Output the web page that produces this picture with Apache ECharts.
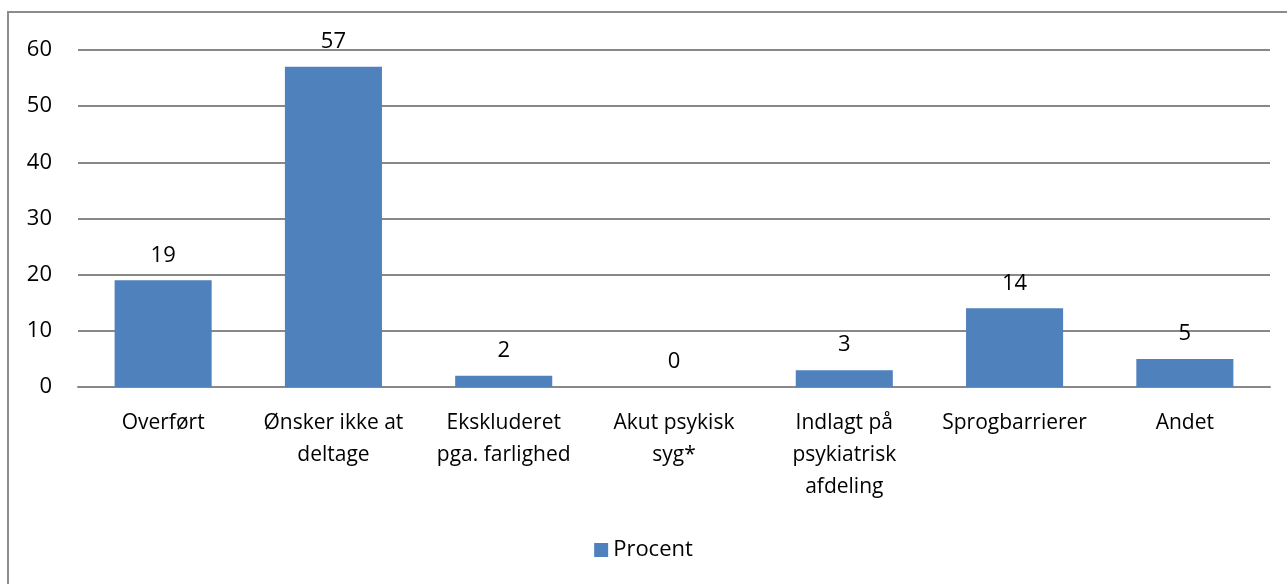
<!DOCTYPE html>
<html>
<head>
<meta charset="utf-8">
<script src="https://cdn.jsdelivr.net/npm/echarts@6/dist/echarts.min.js"></script>
<style>
  html, body { margin: 0; padding: 0; background: #fff; }
  #chart { width: 1287px; height: 584px; }
</style>
</head>
<body>
<div id="chart"></div>
<script>
// data
var categories = ['Overført', 'Ønsker ikke at\ndeltage', 'Ekskluderet\npga. farlighed', 'Akut psykisk\nsyg*', 'Indlagt på\npsykiatrisk\nafdeling', 'Sprogbarrierer', 'Andet'];
var procent = [19, 57, 2, 0, 3, 14, 5];
var yTicks = [0, 10, 20, 30, 40, 50, 60];

var font = '"Open Sans", "Noto Sans", sans-serif';
var chart = echarts.init(document.getElementById('chart'));

var option = {
    animation: false,
    textStyle: { fontFamily: font },
    graphic: [{
        type: 'rect',
        shape: { x: 8, y: 12, width: 1400, height: 700 },
        style: { fill: 'none', stroke: '#8c8c8c', lineWidth: 2 },
        silent: true
    }],
    grid: { left: 78, right: 17, top: 50, bottom: 197 },
    legend: {
        data: ['Procent'],
        bottom: 18,
        left: 'center',
        itemWidth: 14,
        itemHeight: 14,
        icon: 'rect',
        itemGap: 6,
        textStyle: { fontFamily: font, fontSize: 22, color: '#000' }
    },
    xAxis: {
        type: 'category',
        data: categories,
        axisTick: { show: false },
        axisLine: { lineStyle: { color: '#888', width: 2 } },
        axisLabel: {
            interval: 0,
            margin: 20,
            color: '#000',
            fontSize: 21,
            lineHeight: 32,
            fontFamily: font
        }
    },
    yAxis: {
        type: 'value',
        min: yTicks[0],
        max: yTicks[yTicks.length - 1],
        interval: 10,
        axisLine: { show: false },
        axisTick: { show: false },
        splitLine: { lineStyle: { color: '#888', width: 2 } },
        axisLabel: { color: '#000', fontSize: 22, margin: 26, fontFamily: font }
    },
    series: [{
        name: 'Procent',
        type: 'bar',
        data: procent,
        barWidth: '57%',
        itemStyle: { color: '#4F81BD' },
        label: {
            show: true,
            position: 'top',
            distance: 14,
            color: '#000',
            fontSize: 22,
            fontFamily: font
        }
    }]
};

chart.setOption(option);
</script>
</body>
</html>
